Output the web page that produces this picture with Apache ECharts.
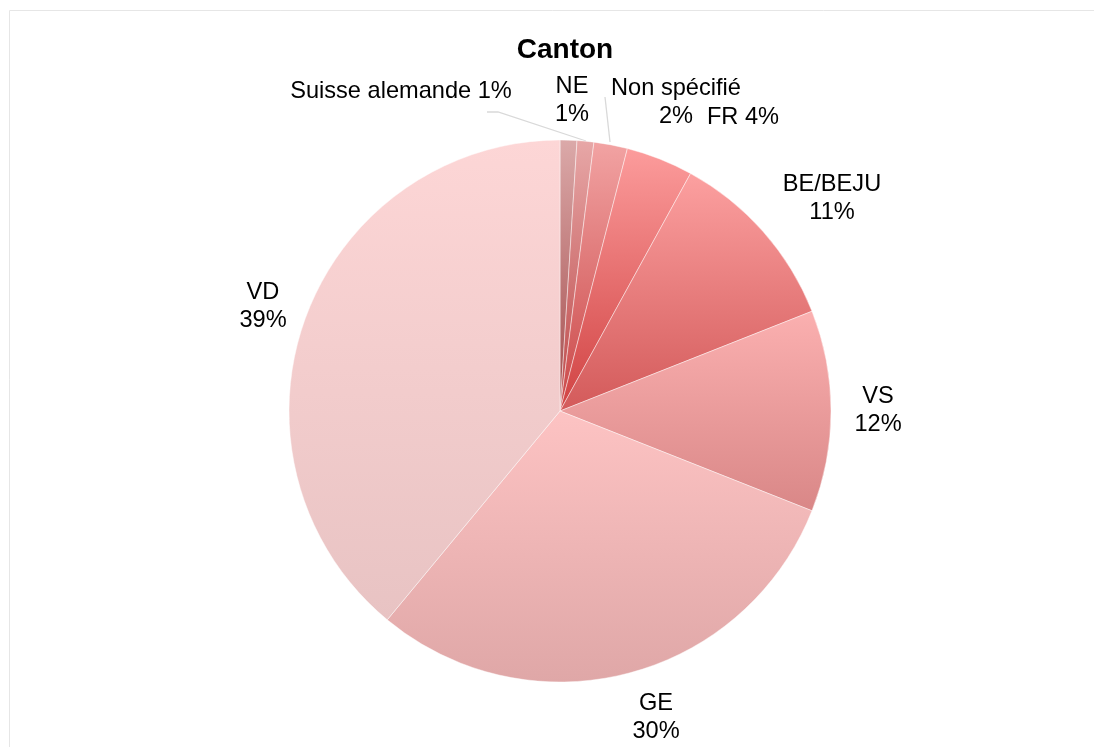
<!DOCTYPE html>
<html>
<head>
<meta charset="utf-8">
<script src="https://cdn.jsdelivr.net/npm/echarts@6/dist/echarts.min.js"></script>
<style>
html,body{margin:0;padding:0;background:#fff;}
#chart{width:1094px;height:747px;}
</style>
</head>
<body>
<div id="chart"></div>
<script>
// ---- data ----
const title = 'Canton';
const categories = ['NE', 'Suisse alemande', 'Non spécifié', 'FR', 'BE/BEJU', 'VS', 'GE', 'VD'];
const values = [1, 1, 2, 4, 11, 12, 30, 39];

// ---- styles ----
const gradTop = ['#dba9a9', '#e7a7a7', '#f2a3a3', '#fc9c9c', '#fca0a0', '#fbb0b0', '#fdc3c3', '#fdd6d6'];
const gradBottom = ['#a34a4a', '#bb4646', '#c94646', '#d04242', '#d35a5a', '#d98787', '#dfa7a7', '#e8c3c3'];
const singleLine = { 'Suisse alemande': true, 'FR': true };
const labelPos = {
  'NE': [572, 100],
  'Suisse alemande': [401, 91],
  'Non spécifié': [676, 102],
  'FR': [743, 117],
  'BE/BEJU': [832, 198],
  'VS': [878, 410],
  'GE': [656, 717],
  'VD': [263, 306]
};
const leaderLines = {
  'Suisse alemande': [[487, 112], [498, 112], [586, 141]],
  'Non spécifié': [[605, 97], [610, 142]]
};

const seriesData = categories.map((c, i) => ({
  name: c,
  value: values[i],
  itemStyle: {
    color: {
      type: 'linear', x: 0, y: 0, x2: 0, y2: 1,
      colorStops: [{ offset: 0, color: gradTop[i] }, { offset: 1, color: gradBottom[i] }]
    }
  },
  labelLine: { show: !!leaderLines[c] }
}));

const chart = echarts.init(document.getElementById('chart'), null, { renderer: 'canvas' });
chart.setOption({
  backgroundColor: '#ffffff',
  animation: false,
  title: {
    text: title,
    left: 560,
    top: 31,
    textAlign: 'center',
    textStyle: { fontFamily: 'Liberation Sans, Arial, sans-serif', fontSize: 28, fontWeight: 'bold', color: '#000' }
  },
  graphic: [{
    type: 'rect',
    shape: { x: 9.5, y: 10.5, width: 1200, height: 800 },
    style: { fill: 'none', stroke: '#e6e6e6', lineWidth: 1 },
    silent: true
  }],
  series: [{
    type: 'pie',
    center: [560, 411],
    radius: [0, 271],
    startAngle: 90,
    clockwise: true,
    avoidLabelOverlap: false,
    data: seriesData,
    itemStyle: { borderColor: 'rgba(255,255,255,0.55)', borderWidth: 0.8 },
    emphasis: { disabled: true },
    label: {
      show: true,
      position: 'outside',
      fontFamily: 'Liberation Sans, Arial, sans-serif',
      fontSize: 23.6,
      lineHeight: 28,
      color: '#000',
      align: 'center',
      formatter: p => singleLine[p.name]
        ? p.name + ' ' + Math.round(p.percent) + '%'
        : p.name + '\n' + Math.round(p.percent) + '%'
    },
    labelLine: { show: true, lineStyle: { color: '#d9d9d9', width: 1.3 }, length: 10, length2: 10 },
    labelLayout: function (params) {
      const name = categories[params.dataIndex];
      const pos = labelPos[name];
      const out = { x: pos[0], y: pos[1], align: 'center', verticalAlign: 'middle' };
      if (leaderLines[name]) out.labelLinePoints = leaderLines[name];
      return out;
    }
  }]
});
</script>
</body>
</html>
